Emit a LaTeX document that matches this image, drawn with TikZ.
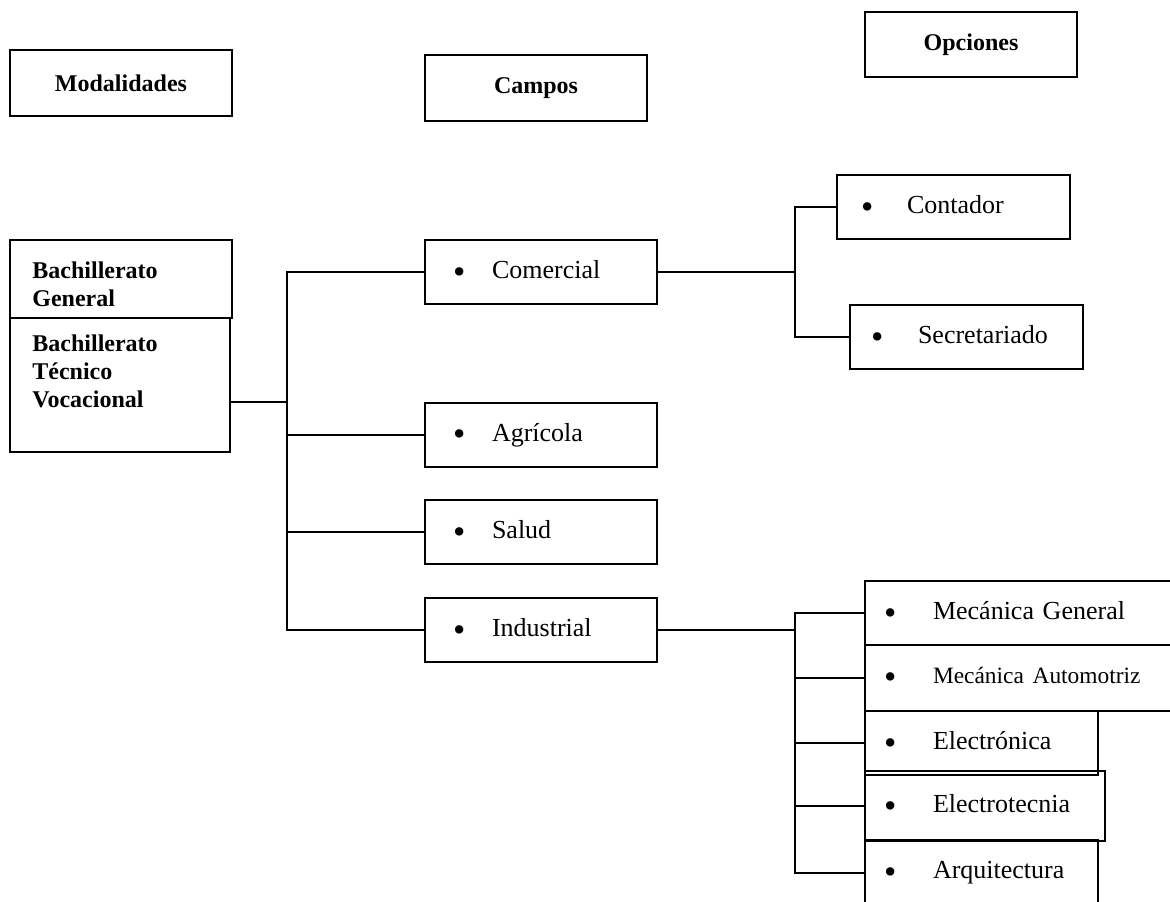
\documentclass[tikz,border=0pt]{standalone}
\usepackage{fontspec}
\setmainfont{Liberation Serif}
\usetikzlibrary{positioning}

\tikzset{
  caja/.style={draw, line width=1pt, inner sep=0pt},
  titulo/.style={caja, font=\fontsize{12}{14}\selectfont\bfseries},
  texto/.style={anchor=north west, align=left, inner sep=0pt, font=\fontsize{12}{14}\selectfont\bfseries},
  opcion/.style 2 args={caja, align=left, inner xsep=#1, text width=#2,
    font=\fontsize{13}{15}\selectfont},
  linea/.style={line width=1pt}
}
\newcommand{\punto}[2]{\makebox[#1][l]{\raisebox{-0.38ex}{\scalebox{1.35}{\textbullet}}}#2}

\begin{document}
\begin{tikzpicture}[x=0.5pt, y=-0.5pt]
    \useasboundingbox (0,0) rectangle (1170,901);
    \clip (0,0) rectangle (1170,901);
    % encabezados
    \node (modalidades) [titulo, minimum width=111pt, minimum height=33pt] at (121,83) {Modalidades};
    \node (campos) [titulo, minimum width=111pt, minimum height=33pt] at (536,88) {Campos};
    \node (opciones) [titulo, minimum width=106pt, minimum height=32.5pt] at (971,44.5) {Opciones};
    % modalidades
    \node (bg) [caja, minimum width=111pt, minimum height=39pt] at (121,279) {};
    \node (bgtexto) [texto] at (32,261) {Bachillerato\\General};
    \node (btv) [caja, minimum width=110pt, minimum height=67pt] at (120,385) {};
    \node (btvtexto) [texto] at (32,334) {Bachillerato\\Técnico\\Vocacional};
    % campos
    \node (comercial) [opcion={14pt}{88pt}, minimum height=32pt] at (541,272) {\punto{19.5pt}{Comercial}};
    \node (agricola) [opcion={14pt}{88pt}, minimum height=32pt] at (541,435) {\punto{19.5pt}{Agrícola}};
    \node (salud) [opcion={14pt}{88pt}, minimum height=32pt] at (541,532) {\punto{19.5pt}{Salud}};
    \node (industrial) [opcion={14pt}{88pt}, minimum height=32pt] at (541,630) {\punto{19.5pt}{Industrial}};
    % opciones
    \node (contador) [opcion={12pt}{92.5pt}, minimum height=32pt] at (953.5,207) {\punto{23pt}{Contador}};
    \node (secretariado) [opcion={10.5pt}{95.5pt}, minimum height=32pt] at (966.5,337) {\punto{23.5pt}{Secretariado}};
    \node (mecgen) [opcion={9.5pt}{148.5pt}, minimum height=32pt] at (1032.5,613) {\punto{24.5pt}{Mecánica General}};
    \node (mecaut) [opcion={9.5pt}{148.5pt}, minimum height=33pt] at (1032.5,678) {\punto{24.5pt}{\fontsize{11.7}{14}\selectfont Mecánica Automotriz}};
    \node (electronica) [opcion={9.5pt}{97.5pt}, minimum height=32pt] at (981.5,743) {\punto{24.5pt}{Electrónica}};
    \node (electrotecnia) [opcion={9.5pt}{101pt}, minimum height=35pt] at (985,806) {\punto{24.5pt}{Electrotecnia}};
    \node (arquitectura) [opcion={9.5pt}{97.5pt}, minimum height=33pt] at (981.5,873) {\punto{24.5pt}{Arquitectura}};
    % conectores
    \coordinate (tronco) at (287,402);
    \coordinate (rama1) at (795,272);
    \coordinate (rama2) at (795,630);
    \draw[linea] (btv.east|-tronco) -- (tronco);
    \draw[linea] (comercial.west) -| (tronco) |- (industrial.west);
    \draw[linea] (agricola.west) -- (agricola.west-|tronco);
    \draw[linea] (salud.west) -- (salud.west-|tronco);
    \draw[linea] (comercial.east) -- (rama1);
    \draw[linea] (contador.west) -| (rama1) |- (secretariado.west);
    \draw[linea] (industrial.east) -- (rama2);
    \draw[linea] (mecgen.west) -| (rama2) |- (arquitectura.west);
    \draw[linea] (mecaut.west) -- (mecaut.west-|rama2);
    \draw[linea] (electronica.west) -- (electronica.west-|rama2);
    \draw[linea] (electrotecnia.west) -- (electrotecnia.west-|rama2);
  \end{tikzpicture}
\end{document}
